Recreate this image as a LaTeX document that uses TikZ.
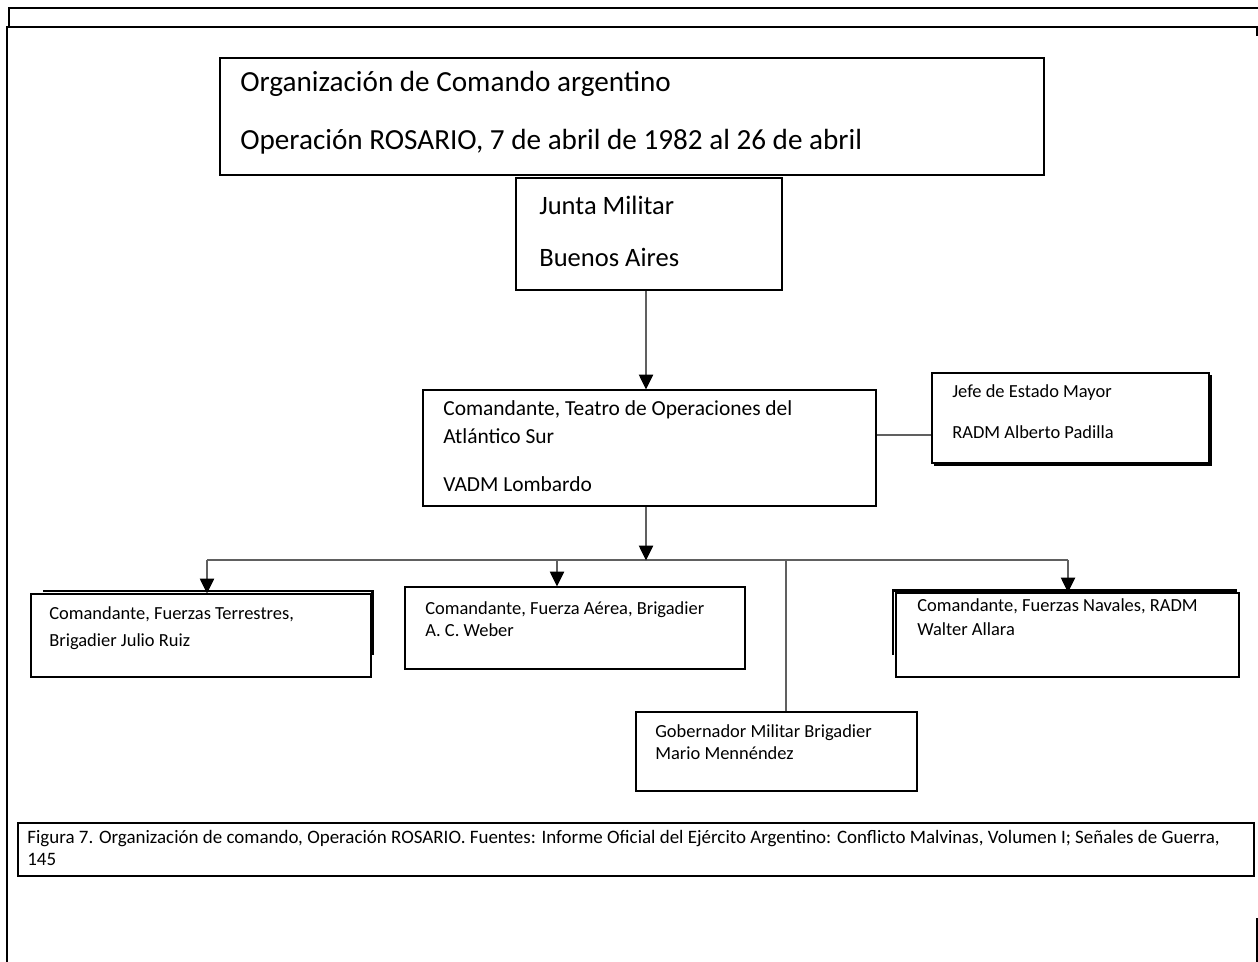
\documentclass[tikz,border=0pt]{standalone}
\usepackage{fontspec}
\setmainfont{Carlito}
\usetikzlibrary{arrows.meta}
\definecolor{conn}{HTML}{606060}
\tikzset{
  box/.style={draw=black, line width=1.2pt, inner sep=0pt, anchor=north west},
  shadowline/.style={draw=black, line width=1.2pt},
  frameline/.style={draw=black, line width=1.2pt},
  conline/.style={draw=conn, line width=1.2pt},
  arr/.style={conline, -{Triangle[width=8pt,length=8.5pt,color=black]}, shorten >=-0.3pt},
  titletxt/.style={anchor=mid west, inner sep=0pt, font=\fontsize{16.6}{20}\selectfont},
  bigtxt/.style={anchor=mid west, inner sep=0pt, font=\fontsize{15.1}{18}\selectfont},
  midtxt/.style={anchor=mid west, inner sep=0pt, font=\fontsize{12.2}{14}\selectfont},
  smalltxt/.style={anchor=mid west, inner sep=0pt, font=\fontsize{10.5}{12}\selectfont},
  captxt/.style={anchor=mid west, inner sep=0pt, font=\fontsize{10.8}{12}\selectfont},
}
\begin{document}
\begin{tikzpicture}[x=0.02cm,y=-0.02cm]
\useasboundingbox[fill=white] (0,0) rectangle (1258,962);
% page frame artefacts
\draw[frameline] (9,27) -- (9,8) -- (1258,8);
\draw[frameline] (7,962) -- (7,27) -- (1257,27) -- (1257,36);
\draw[frameline] (1257,918) -- (1257,962);

% boxes
\node[box, minimum width=824*0.02cm, minimum height=117*0.02cm] (title) at (219,57) {};
\node[box, minimum width=266*0.02cm, minimum height=112*0.02cm] (junta) at (515,177) {};
\node[box, minimum width=453*0.02cm, minimum height=116*0.02cm] (cmd) at (422,389) {};
\node[box, minimum width=277*0.02cm, minimum height=90*0.02cm] (jefe) at (931,372) {};
\node[box, minimum width=340*0.02cm, minimum height=83*0.02cm] (terr) at (30,593) {};
\node[box, minimum width=340*0.02cm, minimum height=82*0.02cm] (aer) at (404,586) {};
\node[box, minimum width=343*0.02cm, minimum height=84*0.02cm] (nav) at (895,592) {};
\node[box, minimum width=281*0.02cm, minimum height=79*0.02cm] (gob) at (635,711) {};
\node[box, minimum width=1236*0.02cm, minimum height=53*0.02cm] (cap) at (17,822) {};

% shadows
\draw[shadowline] (934,465) -- (1211,465) -- (1211,375);
\draw[shadowline] (43,591) -- (372.5,591) -- (372.5,655);
\draw[shadowline] (893,655) -- (893,590.5) -- (1237,590.5);

% texts
\node[titletxt] (t1) at (240,87) {Organización de Comando argentino};
\node[titletxt] (t2) at (240,145) {Operación ROSARIO, 7 de abril de 1982 al 26 de abril};
\node[bigtxt] (j1) at (539,210) {Junta Militar};
\node[bigtxt] (j2) at (539,262) {Buenos Aires};
\node[midtxt] (c1) at (443,411) {Comandante, Teatro de Operaciones del};
\node[midtxt] (c2) at (443,439) {Atlántico Sur};
\node[midtxt] (c3) at (443,487) {VADM Lombardo};
\node[smalltxt] (e1) at (952,393) {Jefe de Estado Mayor};
\node[smalltxt] (e2) at (952,434) {RADM Alberto Padilla};
\node[smalltxt] (r1) at (49,615) {Comandante, Fuerzas Terrestres,};
\node[smalltxt] (r2) at (49,642) {Brigadier Julio Ruiz};
\node[smalltxt] (a1) at (425,610) {Comandante, Fuerza Aérea, Brigadier};
\node[smalltxt] (a2) at (425,632) {A. C. Weber};
\node[smalltxt] (n1) at (917,607) {Comandante, Fuerzas Navales, RADM};
\node[smalltxt] (n2) at (917,631) {Walter Allara};
\node[smalltxt] (g1) at (655,733) {Gobernador Militar Brigadier};
\node[smalltxt] (g2) at (655,755) {Mario Mennéndez};
\node[captxt] (p1) at (27,839) {Figura 7. Organización de comando, Operación ROSARIO. Fuentes: Informe Oficial del Ejército Argentino: Conflicto Malvinas, Volumen I; Señales de Guerra,};
\node[captxt] (p2) at (27,861) {145};

% connectors
\coordinate (bl) at (207,560);
\coordinate (bm) at (646,560);
\coordinate (ba) at (557,560);
\coordinate (bg) at (786,560);
\coordinate (br) at (1068,560);
\draw[arr] (bm |- junta.south) -- (bm |- cmd.north);
\draw[conline] (bl) -- (br);
\draw[arr] (bm |- cmd.south) -- (bm);
\draw[arr] (bl) -- (bl |- terr.north);
\draw[arr] (ba) -- (ba |- aer.north);
\draw[arr] (br) -- (br |- nav.north);
\draw[conline] (bg) -- (bg |- gob.north);
\draw[conline] (cmd.east |- 0,435) -- (jefe.west |- 0,435);
\end{tikzpicture}
\end{document}
